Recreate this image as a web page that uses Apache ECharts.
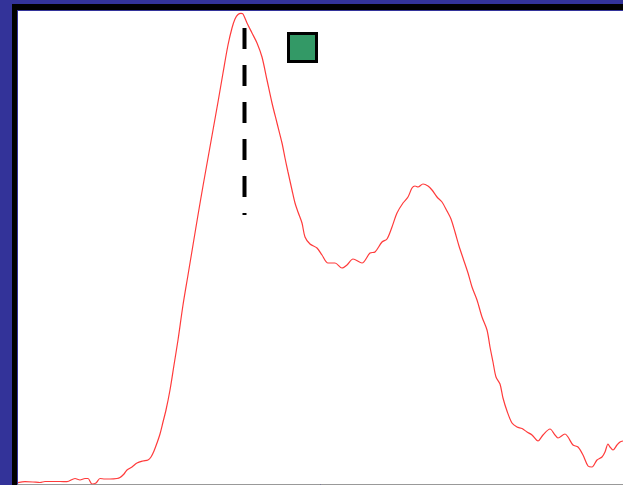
<!DOCTYPE html>
<html>
<head>
<meta charset="utf-8">
<script src="https://cdn.jsdelivr.net/npm/echarts@6/dist/echarts.min.js"></script>
<style>
  html, body { margin: 0; padding: 0; background: #333399; }
  #chart { width: 623px; height: 485px; }
</style>
</head>
<body>
<div id="chart"></div>
<script>
// Spectrum trace: channel positions and measured levels
const channels = [0, 7, 15, 22, 27, 32, 42, 49, 57, 62, 67, 70, 74, 78, 82, 87, 92, 99, 102, 106, 109, 114, 119, 125, 130, 133, 136, 139, 142, 145, 148, 152, 156, 160, 165, 170, 175, 180, 185, 190, 195, 200, 205, 210, 214, 217, 220, 223, 225, 229, 234, 239, 244, 249, 254, 259, 264, 267, 270, 274, 277, 280, 284, 287, 292, 299, 304, 310, 317, 324, 329, 335, 344, 352, 357, 364, 369, 374, 379, 385, 390, 394, 397, 400, 405, 410, 414, 419, 424, 429, 433, 437, 441, 445, 450, 454, 459, 464, 469, 472, 475, 478, 482, 485, 489, 494, 499, 504, 509, 514, 520, 525, 532, 537, 540, 547, 550, 555, 560, 565, 570, 574, 579, 584, 587, 590, 592, 595, 599, 602, 605];
const levels = [1.3, 2.3, 2, 1.5, 2.5, 2.5, 2.5, 2.3, 5.5, 4, 5.5, 5.5, 0, 1, 5.5, 5, 5, 5.5, 6.5, 10, 14, 17, 21, 23, 24, 27, 33, 41, 50, 62, 74, 94, 119, 144, 179, 209, 239, 269, 298, 326, 354, 382, 411, 439, 456, 465, 469.5, 470.7, 470, 461, 451, 441, 427, 404, 381, 361, 341, 326, 312, 294, 281, 272, 261, 247, 240, 236, 229, 221, 221, 216, 219, 225, 221, 231, 232, 242, 245, 257, 271, 281, 287, 296, 298, 297, 300, 298, 294, 287, 282, 273, 265, 252, 238, 226, 211, 197, 184, 167, 154, 137, 122, 107, 100, 86, 73, 61, 57, 55.5, 52, 49, 43, 49, 55, 49, 46, 50, 47, 39, 37, 29, 18, 17, 24, 27, 32, 40, 37, 34, 39, 42, 43];

// Peak marker (vertical dashed line) and reference point
const peakChannel = [226.5];
const peakSpan = [456, 269];
const refPoint = [284.5, 436.5];

const xRange = [0, 605];
const yRange = [0, 473];

const trace = channels.map((c, i) => [c, levels[i]]);

const chart = echarts.init(document.getElementById('chart'), null, { renderer: 'canvas' });
chart.setOption({
  backgroundColor: '#333399',
  animation: false,
  graphic: [{
    type: 'rect',
    z: -10,
    shape: { x: 12, y: 4, width: 700, height: 600 },
    style: { fill: '#000' }
  }, {
    type: 'rect',
    z: -9,
    shape: { x: 17, y: 10, width: 700, height: 600 },
    style: { fill: '#333399' }
  }],
  grid: {
    left: 18, top: 11, right: 0, bottom: 1,
    show: true, backgroundColor: '#fff', borderWidth: 0
  },
  xAxis: {
    type: 'value', min: xRange[0], max: xRange[1],
    axisLine: { show: true, lineStyle: { color: '#999', width: 1 } },
    axisTick: { show: false }, axisLabel: { show: false }, splitLine: { show: false }
  },
  yAxis: {
    type: 'value', min: yRange[0], max: yRange[1],
    axisLine: { show: false }, axisTick: { show: false },
    axisLabel: { show: false }, splitLine: { show: false }
  },
  series: [{
    type: 'line',
    data: trace,
    symbol: 'none',
    smooth: 0.3,
    clip: true,
    lineStyle: { color: '#ff3b3b', width: 1.2 },
    z: 2
  }, {
    type: 'line',
    data: peakSpan.map(v => [peakChannel[0], v]),
    symbol: 'none',
    lineStyle: { color: '#000', width: 4, type: [21, 16], cap: 'butt' },
    z: 3
  }, {
    type: 'scatter',
    data: [refPoint],
    symbol: 'rect',
    symbolSize: 28,
    itemStyle: { color: '#339966', borderColor: '#000', borderWidth: 3, opacity: 1 },
    z: 4
  }]
});
</script>
</body>
</html>
